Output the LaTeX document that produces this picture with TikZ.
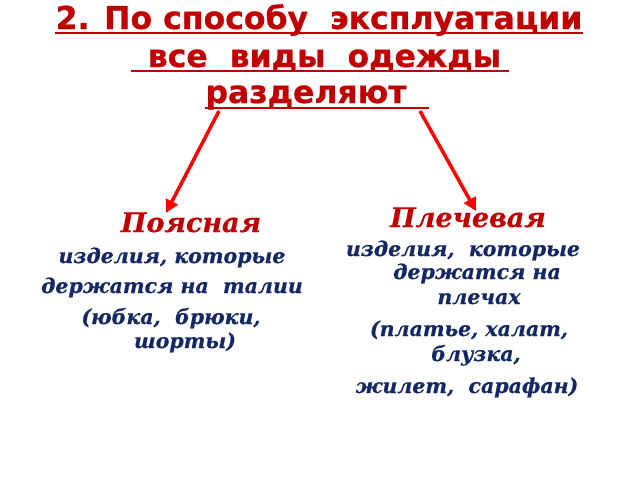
\documentclass[tikz,border=0pt]{standalone}
\usepackage{fontspec}
\setmainfont{DejaVu Serif}[BoldItalicFeatures={FakeBold=0.5}]
\newfontfamily\ttlfont{DejaVu Sans}[BoldFeatures={FakeBold=0.7}]
\usetikzlibrary{arrows.meta}
\definecolor{ttl}{RGB}{192,0,0}
\definecolor{navy}{RGB}{20,40,100}
\tikzset{
  titletext/.style={font=\ttlfont\bfseries\fontsize{31.5}{31.5}\selectfont, text=ttl, inner sep=0pt, anchor=base},
  headtext/.style={font=\bfseries\itshape\fontsize{27}{27}\selectfont, text=ttl, inner sep=0pt, anchor=base},
  bodytext/.style={font=\bfseries\itshape\fontsize{20.5}{20.5}\selectfont, text=navy, inner sep=0pt, anchor=base},
  uline/.style={draw=ttl, line width=2pt},
  arr/.style={draw=red, line width=3.5pt, -{Triangle[length=13pt,width=13pt]}}
}
\begin{document}
\begin{tikzpicture}[x=1pt,y=-1pt]
\useasboundingbox (0,0) rectangle (640,480);
\node[titletext] (t1) at (319,29) {2. По способу\ \ эксплуатации};
\node[titletext] (t2) at (319,67) {\ все\ \ виды\ \ одежды\ };
\node[titletext] (t3) at (317,103) {разделяют\ \ \ };
\draw[uline] ([yshift=-4pt]t1.base west) -- ([yshift=-4pt]t1.base east);
\draw[uline] ([yshift=-4pt,xshift=-6pt]t2.base west) -- ([yshift=-4pt,xshift=8pt]t2.base east);
\draw[uline] ([yshift=-5pt]t3.base west) -- ([yshift=-5pt]t3.base east);
\coordinate (s1) at (219,111);
\coordinate (s2) at (420,111);
\coordinate (e1) at (166,213);
\coordinate (e2) at (476,211);
\draw[arr] (s1) -- (e1);
\draw[arr] (s2) -- (e2);
\node[headtext] (h1) at (191,232) {Поясная};
\node[bodytext] (l1) at (172,263) {изделия, которые};
\node[bodytext] (l2) at (172,293) {держатся на\ \ талии};
\node[bodytext] (l3) at (171,324) {(юбка,\ \ брюки,};
\node[bodytext] (l4) at (185,348) {шорты)};
\node[headtext] (h2) at (468,227) {Плечевая};
\node[bodytext] (r1) at (463,256) {изделия,\ \ которые};
\node[bodytext] (r2) at (477,279) {держатся на};
\node[bodytext] (r3) at (479,304) {плечах};
\node[bodytext] (r4) at (469,336) {(платье, халат,};
\node[bodytext] (r5) at (476,361) {блузка,};
\node[bodytext] (r6) at (467,393) {жилет,\ \ сарафан)};
\end{tikzpicture}
\end{document}
